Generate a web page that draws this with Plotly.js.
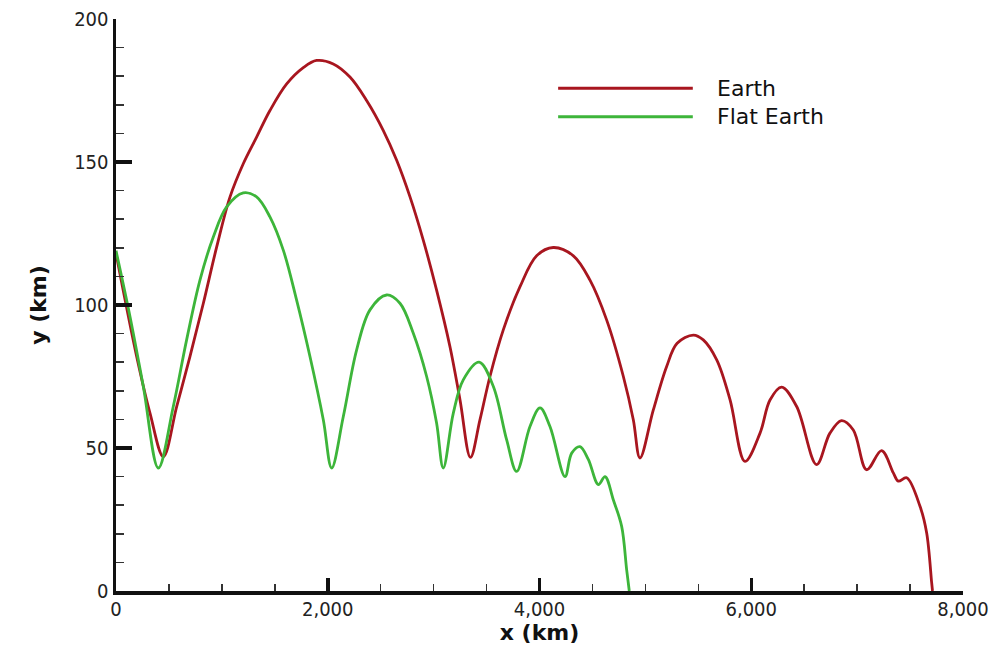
<!DOCTYPE html>
<html><head><meta charset="utf-8">
<script src="https://cdn.plot.ly/plotly-3.0.1.min.js"></script>
<style>html,body{margin:0;padding:0;background:#fff}</style>
</head><body>
<div id="chart" style="width:1004px;height:646px"></div>
<script>
// Series names
const seriesNames = ["Earth", "Flat Earth"];

// Earth trajectory (x in km, y in km)
const earthX = [0, 195, 321, 447, 573, 699, 825, 951, 1077, 1202, 1328, 1454, 1612, 1769, 1895, 2052, 2210, 2367, 2525, 2651, 2777, 2902, 3028, 3154, 3249, 3348, 3438, 3532, 3658, 3816, 3973, 4130, 4320, 4477, 4634, 4792, 4886, 4949, 5075, 5201, 5300, 5453, 5547, 5674, 5800, 5941, 6083, 6177, 6287, 6429, 6617, 6743, 6853, 6964, 7090, 7231, 7342, 7389, 7468, 7594, 7657, 7704, 7712];
const earthY = [118, 82, 62.2, 47, 64.5, 82, 100.6, 120.3, 137.8, 149.4, 158.7, 168, 177.3, 183, 185.5, 184.3, 179.7, 171.5, 161, 150.6, 137.8, 122.7, 105.2, 85.5, 66.9, 46.7, 59.9, 75, 91.3, 106.4, 117.2, 120.1, 117.2, 108.7, 94.8, 75, 59.9, 46.5, 63.3, 78.5, 86.6, 89.5, 87.8, 80.8, 66.8, 45.3, 55.2, 66.8, 71.3, 64.5, 44.2, 55.2, 59.6, 56.3, 42.4, 49.1, 41.3, 38.4, 39.6, 29.6, 20.3, 2.9, 0];

// Flat Earth trajectory
const flatX = [0, 132, 258, 400, 541, 667, 793, 919, 1045, 1202, 1328, 1454, 1580, 1706, 1832, 1958, 2037, 2147, 2273, 2399, 2556, 2682, 2808, 2934, 3028, 3091, 3186, 3280, 3430, 3564, 3690, 3784, 3910, 4005, 4099, 4241, 4304, 4382, 4461, 4556, 4619, 4697, 4776, 4823, 4848];
const flatY = [119, 96, 71.5, 43, 64.5, 87.8, 108.7, 123.8, 134.3, 139.2, 137.8, 130.8, 119.2, 101.7, 82, 59.9, 43, 61, 84.3, 98.3, 103.5, 100.6, 90.1, 75, 58.7, 43, 62.2, 73.8, 80, 71.5, 52.8, 41.8, 57.5, 64, 57.5, 40, 48.2, 50.5, 46, 37.2, 40, 31.9, 22.6, 7.5, 0];

// Tick labels
const xTickVals = [0, 2000, 4000, 6000, 8000];
const xTickText = ["0", "2,000", "4,000", "6,000", "8,000"];
const yTickVals = [0, 50, 100, 150, 200];
const yTickText = ["0", "50", "100", "150", "200"];

const colors = ["#a8161f", "#3db53a"];
const tickFont = {family: "DejaVu Sans Condensed, DejaVu Sans, sans-serif", size: 20, color: "#222"};
const titleFont = {family: "DejaVu Sans, sans-serif", size: 22, color: "#111", weight: "bold"};

const traces = [
  {x: earthX, y: earthY, name: seriesNames[0], mode: "lines", line: {color: colors[0], width: 2.8, shape: "spline", smoothing: 1}},
  {x: flatX, y: flatY, name: seriesNames[1], mode: "lines", line: {color: colors[1], width: 2.8, shape: "spline", smoothing: 1}}
];

const legX0 = 0.522, legX1 = 0.681, legTextX = 0.707;
const legY = [0.879, 0.829];

const layout = {
  width: 1004, height: 646,
  margin: {l: 116, r: 41, t: 19, b: 55},
  paper_bgcolor: "#fff", plot_bgcolor: "#fff",
  showlegend: false,
  xaxis: {
    range: [0, 8000], tickvals: xTickVals, ticktext: xTickText,
    ticks: "inside", ticklen: 13, tickwidth: 3.5, tickcolor: "#111",
    showline: true, linecolor: "#111", linewidth: 3.5, mirror: false,
    showgrid: false, zeroline: false, tickfont: tickFont, ticklabelstandoff: -3,
    minor: {dtick: 500, ticks: "inside", ticklen: 7, tickwidth: 1.5, tickcolor: "#333", showgrid: false},
    title: {text: "x (km)", font: titleFont, standoff: 4}
  },
  yaxis: {
    range: [0, 200], tickvals: yTickVals, ticktext: yTickText,
    ticks: "inside", ticklen: 16, tickwidth: 3.5, tickcolor: "#111",
    showline: true, linecolor: "#111", linewidth: 3.5, mirror: false,
    showgrid: false, zeroline: false, tickfont: tickFont,
    minor: {dtick: 10, ticks: "inside", ticklen: 8, tickwidth: 1.5, tickcolor: "#333", showgrid: false},
    title: {text: "y (km)", font: titleFont, standoff: 22}
  },
  shapes: seriesNames.map((n, i) => ({
    type: "line", xref: "paper", yref: "paper",
    x0: legX0, x1: legX1, y0: legY[i], y1: legY[i],
    line: {color: colors[i], width: 3}
  })),
  annotations: seriesNames.map((n, i) => ({
    xref: "paper", yref: "paper", x: legTextX, y: legY[i],
    xanchor: "left", yanchor: "middle", showarrow: false, text: n,
    font: {family: "DejaVu Sans, sans-serif", size: 22, color: "#111"}
  }))
};

Plotly.newPlot("chart", traces, layout, {staticPlot: true, displayModeBar: false});
</script>
</body></html>
